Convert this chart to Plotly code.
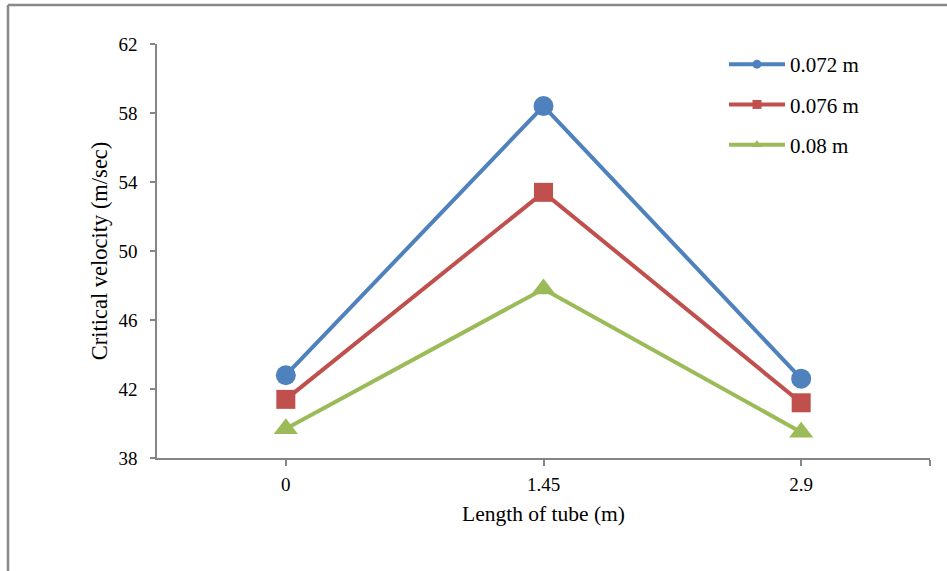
import plotly.graph_objects as go

x_vals = [0, 1.45, 2.9]
x_labels = ["0", "1.45", "2.9"]
s072 = [42.8, 58.4, 42.6]
s076 = [41.4, 53.4, 41.2]
s080 = [39.7, 47.8, 39.5]
names = ["0.072 m", "0.076 m", "0.08 m"]
colors = ["#4F81BD", "#C0504D", "#9BBB59"]
symbols = ["circle", "square", "triangle-up"]
sizes = [20, 19, 21]
y_ticks = [38, 42, 46, 50, 54, 58, 62]

fig = go.Figure()
for i, ys in enumerate([s072, s076, s080]):
    fig.add_trace(go.Scatter(
        x=x_vals, y=ys, mode="lines+markers", name=names[i],
        line=dict(color=colors[i], width=4),
        marker=dict(symbol=symbols[i], size=sizes[i], color=colors[i]),
        showlegend=False, legendgroup=names[i]))
    fig.add_trace(go.Scatter(
        x=[None], y=[None], mode="lines+markers", name=names[i],
        line=dict(color=colors[i], width=4),
        marker=dict(symbol=symbols[i], size=9, color=colors[i]),
        showlegend=True, legendgroup=names[i]))

L, R, T, B = 157, 17, 44, 113
W, H = 947, 571
pw, ph = W - L - R, H - T - B

axis_col = "#868686"
serif = "Liberation Serif"
fig.update_layout(
    width=W, height=H,
    margin=dict(l=L, r=R, t=T, b=B, autoexpand=False),
    paper_bgcolor="white", plot_bgcolor="white",
    font=dict(family=serif, size=19, color="#000"),
    showlegend=True,
    legend=dict(x=(724 - L) / pw, y=1 - (44 - T) / ph, xanchor="left", yanchor="top",
                traceorder="grouped", tracegroupgap=10, itemwidth=56,
                font=dict(family=serif, size=21, color="#000"),
                bgcolor="rgba(0,0,0,0)"),
    xaxis=dict(range=[-0.725, 3.625], tickvals=x_vals + [3.625], ticktext=x_labels + [""],
               showgrid=False, zeroline=False, showline=True, linecolor=axis_col, linewidth=1.5,
               ticks="outside", ticklen=6, tickcolor=axis_col, tickwidth=1.5,
               tickfont=dict(family=serif, size=19, color="#000"), ticklabelstandoff=2,
               title=dict(text="Length of tube (m)", standoff=12,
                          font=dict(family=serif, size=21.5, color="#000")),
               automargin=False),
    yaxis=dict(range=[38, 62], tickvals=y_ticks, showgrid=False, zeroline=False,
               showline=True, linecolor=axis_col, linewidth=1.5,
               ticks="outside", ticklen=5, tickcolor=axis_col, tickwidth=1.5,
               tickfont=dict(family=serif, size=19, color="#000"), ticklabelstandoff=9,
               title=dict(text="Critical velocity (m/sec)", standoff=5,
                          font=dict(family=serif, size=22.5, color="#000")),
               automargin=False),
)

# outer chart border (left and top edges)
x0 = (8 - L) / pw
y0 = 1 + (T - 5) / ph
fig.add_shape(type="line", xref="paper", yref="paper", x0=x0, x1=(W - L) / pw + 0.01,
              y0=y0, y1=y0, line=dict(color="#888888", width=2.5))
fig.add_shape(type="line", xref="paper", yref="paper", x0=x0, x1=x0,
              y0=y0, y1=-(B + 5) / ph, line=dict(color="#888888", width=2.5))

fig.write_html("out.html")
